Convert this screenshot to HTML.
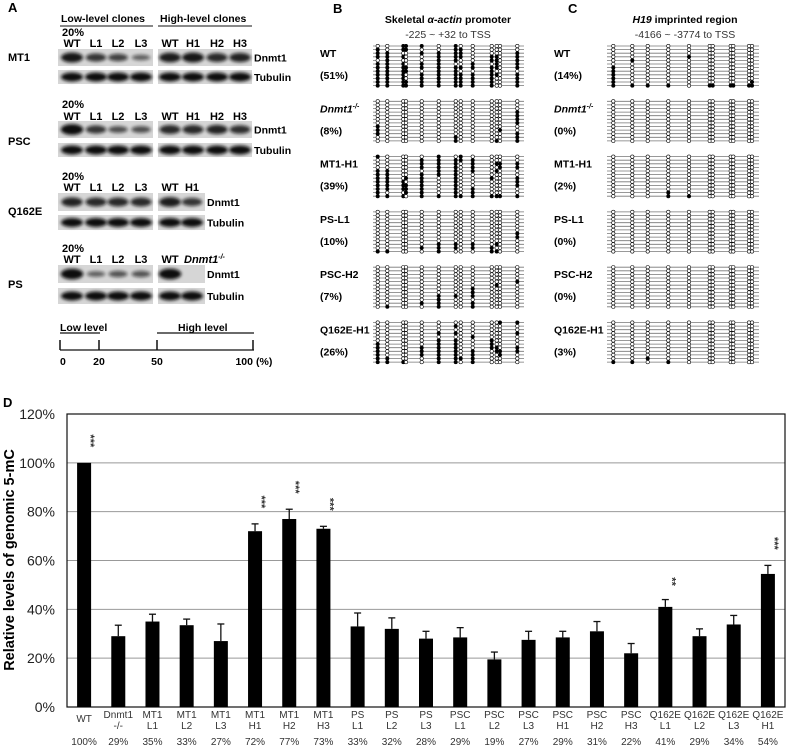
<!DOCTYPE html>
<html><head><meta charset="utf-8"><style>
body{margin:0;background:#fff}
svg{display:block;font-family:"Liberation Sans",Arial,sans-serif}
</style></head><body>
<svg id="fig" width="787" height="746" viewBox="0 0 787 746" xmlns="http://www.w3.org/2000/svg">
<defs><filter id="bl" x="-30%" y="-60%" width="160%" height="220%"><feGaussianBlur stdDeviation="1.6"/></filter></defs>
<g id="panelA"></g>
<g id="panelB"></g>
<g id="panelC"></g>
<g id="panelD"></g>
</svg>
<script>
// Chart D data
const categories1 = ["WT","Dnmt1","MT1","MT1","MT1","MT1","MT1","MT1","PS","PS","PS","PSC","PSC","PSC","PSC","PSC","PSC","Q162E","Q162E","Q162E","Q162E"];
const categories2 = ["","-/-","L1","L2","L3","H1","H2","H3","L1","L2","L3","L1","L2","L3","H1","H2","H3","L1","L2","L3","H1"];
const values = [100,29,35,33.5,27,72,77,73,33,32,28,28.5,19.5,27.5,28.5,31,22,41,29,33.8,54.5];
const errorTops = [100,33.5,38,36,34,75,81,74,38.5,36.5,31,32.5,22.5,31,31,35,26,44,32,37.5,58];
const percentLabels = ["100%","29%","35%","33%","27%","72%","77%","73%","33%","32%","28%","29%","19%","27%","29%","31%","22%","41%","29%","34%","54%"];
const stars = ["***","","","","","***","***","***","","","","","","","","","","**","","","***"];
const yTicks = [0,20,40,60,80,100,120];

const NS="http://www.w3.org/2000/svg";
function mk(parent,tag,attrs,text){const e=document.createElementNS(NS,tag);for(const k in attrs)e.setAttribute(k,attrs[k]);if(text!==undefined)e.textContent=text;parent.appendChild(e);return e;}

// ---------- Panel D ----------
const D=document.getElementById('panelD');
const px0=67,px1=785,py0=707,py1=414;
const yS=v=>py0-(v/120)*(py0-py1);
const band=(px1-px0)/values.length;
const xC=i=>px0+band*(i+0.5);
let t=mk(D,'text',{x:3,y:407,'font-size':13,'font-weight':'bold'},'D');

yTicks.forEach(v=>{
  if(v>0&&v<120){const g=mk(D,'line',{x1:px0,x2:px1,y1:yS(v),y2:yS(v),stroke:'#999','stroke-width':1});
  }
  const l=mk(D,'text',{x:55,y:yS(v)+5,'font-size':14,'text-anchor':'end',fill:'#222'},v+'%');
  
});
let fr=mk(D,'rect',{x:px0,y:py1,width:px1-px0,height:py0-py1,fill:'none',stroke:'#111','stroke-width':1.2});

let yt=mk(D,'text',{x:0,y:0,'font-size':14.5,'font-weight':'bold','text-anchor':'middle',transform:'translate(14,560) rotate(-90)'},'Relative levels of genomic 5-mC');

values.forEach((v,i)=>{
  const cx=xC(i),w=14;
  if(errorTops[i]>v){
    const e1=mk(D,'line',{x1:cx,x2:cx,y1:yS(errorTops[i]),y2:yS(v),stroke:'#111','stroke-width':1.3});
    
    const e2=mk(D,'line',{x1:cx-3.5,x2:cx+3.5,y1:yS(errorTops[i]),y2:yS(errorTops[i]),stroke:'#111','stroke-width':1.3});
    
  }
  const b=mk(D,'rect',{x:cx-w/2,y:yS(v),width:w,height:py0-yS(v),fill:'#000'});
  
  
  const c1=mk(D,'text',{x:cx,y:categories2[i]?718:722,'font-size':10,'text-anchor':'middle',fill:'#333'},categories1[i]);
  
  if(categories2[i]){const c2=mk(D,'text',{x:cx,y:729,'font-size':10,'text-anchor':'middle',fill:'#333'},categories2[i]);
  }
  const p=mk(D,'text',{x:cx,y:745,'font-size':10,'text-anchor':'middle',fill:'#333'},percentLabels[i]);
  
  if(stars[i]){const ty=yS(errorTops[i])-(stars[i].length===3?22:18);
    const s=mk(D,'text',{x:0,y:0,'font-size':11,'font-weight':'bold','text-anchor':'middle',fill:'#333',transform:`translate(${cx+3},${ty}) rotate(90)`},stars[i]);
    }
});

// ---------- Panel A ----------
const A=document.getElementById('panelA');
function txt(p,x,y,s,opts,name){const e=mk(p,'text',Object.assign({x:x,y:y,'font-size':11,'font-weight':'bold'},opts||{}),s);return e;}
txt(A,8,12,'A',{'font-size':13},'panel-a-letter');
txt(A,61,22,'Low-level clones',{'font-size':10.5},'low-level-header');
txt(A,160,22,'High-level clones',{'font-size':10.5},'high-level-header');
mk(A,'line',{x1:60,x2:153,y1:26,y2:26,stroke:'#111','stroke-width':1});
mk(A,'line',{x1:158,x2:252,y1:26,y2:26,stroke:'#111','stroke-width':1});
const blots=[
 {name:'MT1',lab:61,pct:36,lanes:47,dy:49,dh:17,ty:70,th:14,right:['WT','H1','H2','H3'],rw:94,L:[1,.75,.65,.4],R:[.95,1,.85,.9]},
 {name:'PSC',lab:145,pct:108,lanes:120,dy:121,dh:17,ty:143,th:14,right:['WT','H1','H2','H3'],rw:94,L:[1.1,.75,.55,.55],R:[.85,.85,.9,.8]},
 {name:'Q162E',lab:215,pct:180,lanes:191,dy:193,dh:18,ty:215,th:15,right:['WT','H1'],rw:47,L:[.9,.85,.85,.85],R:[.95,.75]},
 {name:'PS',lab:288,pct:252,lanes:263,dy:265,dh:18,ty:288,th:16,right:['WT','Dnmt1-/-'],rw:47,L:[1.1,.4,.5,.5],R:[1.1,0]}
];
blots.forEach(b=>{
  txt(A,8,b.lab,b.name,{},'blot-label-'+b.name.toLowerCase());
  txt(A,62,b.pct,'20%',{},'twenty-percent-label');
  const lx=[72,96,118,141];
  ['WT','L1','L2','L3'].forEach((s,i)=>txt(A,lx[i],b.lanes,s,{'text-anchor':'middle'},'lane-label'));
  const rx=b.right.length===4?[170,193,217,240]:[170,192];
  b.right.forEach((s,i)=>{ if(s==='Dnmt1-/-'){const e=txt(A,rx[i]-8,b.lanes,'Dnmt1',{'font-style':'italic'},'lane-label');mk(e,'tspan',{'font-size':7,dy:-4},'-/-');}
    else txt(A,rx[i],b.lanes,s,{'text-anchor':'middle'},'lane-label');});
  [[58,95,lx,b.L],[158,b.rw,rx,b.R]].forEach(([x,w,xs,ints])=>{
    let r=mk(A,'rect',{x:x,y:b.dy,width:w,height:b.dh,fill:'#d6d6d6'});
    let r2=mk(A,'rect',{x:x,y:b.ty,width:w,height:b.th,fill:'#d6d6d6'});
    xs.forEach((cx,i)=>{const v=ints[i]; if(v>0) mk(A,'ellipse',{cx:cx,cy:b.dy+b.dh/2,rx:8+v*3,ry:1.5+v*3.5,fill:'#111',opacity:Math.min(1,.35+v*.6),filter:'url(#bl)'});
      mk(A,'ellipse',{cx:cx,cy:b.ty+b.th/2,rx:11,ry:4.5,fill:'#111',filter:'url(#bl)'});});
  });
  txt(A,b.right.length===4?254:207,b.dy+b.dh/2+4,'Dnmt1',{'font-size':10.5},'dnmt1-label');
  txt(A,b.right.length===4?254:207,b.ty+b.th/2+4,'Tubulin',{'font-size':10.5},'tubulin-label');
});
txt(A,60,331,'Low level',{'font-size':10.5},'low-level-scale-label');
txt(A,178,331,'High level',{'font-size':10.5},'high-level-scale-label');
mk(A,'line',{x1:60,x2:100,y1:333,y2:333,stroke:'#111','stroke-width':1.3});
mk(A,'line',{x1:157,x2:254,y1:333,y2:333,stroke:'#111','stroke-width':1.3});
mk(A,'line',{x1:60,x2:254,y1:350,y2:350,stroke:'#111','stroke-width':1.3});
[[60,'0'],[99,'20'],[157,'50'],[253,'100']].forEach(([x,s])=>{mk(A,'line',{x1:x,x2:x,y1:340,y2:350,stroke:'#111','stroke-width':1.5});
  txt(A,x,365,s,{'font-size':10.5,'text-anchor':x===60?'start':(x===253?'end':'middle')},'scale-tick-label');});
txt(A,256,365,'(%)',{'font-size':10.5},'scale-unit');

// ---------- Panels B / C ----------
function lolli(P,letter,lx,titleX,title,sub,labX,x0,x1,cols,groups,fillCols){
  txt(P,lx,13,letter,{'font-size':13},'panel-letter');
  const tt=txt(P,titleX,23,'',{'font-size':10.5,'text-anchor':'middle'},'region-title');
  title.forEach(([s,it])=>mk(tt,'tspan',it?{'font-style':'italic'}:{},s));
  txt(P,titleX,38,sub,{'font-size':10.5,'font-weight':'normal','text-anchor':'middle',fill:'#333'},'region-coordinates');
  groups.forEach((g,gi)=>{
    const gy=46+gi*55.3;
    const l1=txt(P,labX,gy+11,'',{'font-size':10.5},'sample-label');
    if(g[0]==='Dnmt1'){mk(l1,'tspan',{'font-style':'italic'},'Dnmt1');mk(l1,'tspan',{'font-size':7,dy:-4,'font-style':'italic'},'-/-');}
    else l1.textContent=g[0];
    txt(P,labX,gy+33,'('+g[1]+'%)',{'font-size':10.5},'methylation-percent');
    const rows=12, sp=3.6;
    const fc=fillCols[gi];
    for(let r=0;r<rows;r++){
      const y=gy+r*sp;
      mk(P,'line',{x1:x0,x2:x1,y1:y,y2:y,stroke:'#777','stroke-width':.8});
      cols.forEach((cx,ci)=>{
        const f=fc.some(([c,rs])=>c===ci&&rs.indexOf(r)>=0);
        mk(P,'circle',{cx:cx,cy:y,r:1.7,fill:f?'#000':'#fff',stroke:'#000','stroke-width':.6});
      });
    }
  });
}
const B=document.getElementById('panelB');
const bcols=[377.7,387.3,403.3,406,421.7,438.7,455.7,460.7,472.7,491.7,496.7,500,517.3];
const R=(a,b)=>{const o=[];for(let i=a;i<=b;i++)o.push(i);return o;};
const bfill=[
 [[0,[1,2,3,5,6,7,8,9,10,11]],[1,R(2,11)],[2,[0,1,3,5,6,7,8,9,10,11]],[3,[0,1,6,7,10,11]],[4,[0,2,5,6,8,9,10,11]],[5,R(2,11)],[6,[0,1,2,3,4,6,7,8,9,10,11]],[7,[1,2,3,6,8,9,10,11]],[8,[5,6,8,9,10,11]],[9,[3,4,6,7,8,9,10,11]],[10,[3,4,5,6,8]],[12,[2,3,4,5,6,8,9,10,11]]],
 [[0,[7,8,9]],[6,[10,11]],[10,[11]],[11,[8]],[12,[3,4,5,6,9,10,11]]],
 [[0,[0,4,5,6,7,8,9,10,11]],[1,[4,5,6,7,8,9,11]],[2,[7,8,9,11]],[3,[6,8,9,10]],[4,[1,2,3,5,6,7,8,9,10,11]],[5,[0,1,2,3,4,5,11]],[6,[1,2,3,4,5,6,7,8,9,10,11]],[7,[0,1,11]],[8,[1,2,3,4,9,10,11]],[9,[6,11]],[10,[2,4,11]],[11,[2,3,11]],[12,[2,3,6,7,8,11]]],
 [[0,[11]],[1,[11]],[4,[10]],[5,[9,10,11]],[6,[9,10]],[8,[9,10]],[9,[10,11]],[10,[9,11]],[12,[6,7]]],
 [[1,[11]],[4,[10]],[5,[8,9,10,11]],[6,[8]],[8,[6,7,8,10,11]],[10,[5]],[12,[4]]],
 [[0,[6,7,8,9,10,11]],[1,[10,11]],[2,[11]],[4,[7,8,9]],[5,[3,5,6,7,8,9,10,11]],[6,[1,3,5,6,7,8,9,10,11]],[7,[10]],[8,[4,8,9,10,11]],[9,[5,6,7]],[10,[7,8]],[11,[0,8,9]],[12,[0,3,7,8]]]
];
lolli(B,'B',333,448,[['Skeletal  ',false],['α-actin',true],[' promoter',false]],'-225 ~ +32 to TSS',320,373,524,bcols,
 [['WT',51],['Dnmt1',8],['MT1-H1',39],['PS-L1',10],['PSC-H2',7],['Q162E-H1',26]],bfill);
const C=document.getElementById('panelC');
const ccols=[613.3,632.3,647.7,668.3,689,709.7,712.7,730.7,733.3,749,752];
const cfill=[
 [[0,[6,7,8,9,10,11]],[1,[4,11]],[2,[11]],[3,[11]],[4,[3]],[5,[11]],[6,[11]],[7,[11]],[8,[11]],[9,[11]],[10,[10,11]]],
 [],[[3,[10,11]],[4,[11]]],[],[],[[0,[11]],[1,[11]],[2,[10]],[3,[11]]]
];
lolli(C,'C',568,685,[['H19',true],[' imprinted region',false]],'-4166 ~ -3774 to TSS',554,607,759,ccols,
 [['WT',14],['Dnmt1',0],['MT1-H1',2],['PS-L1',0],['PSC-H2',0],['Q162E-H1',3]],cfill);
</script>
</body></html>
